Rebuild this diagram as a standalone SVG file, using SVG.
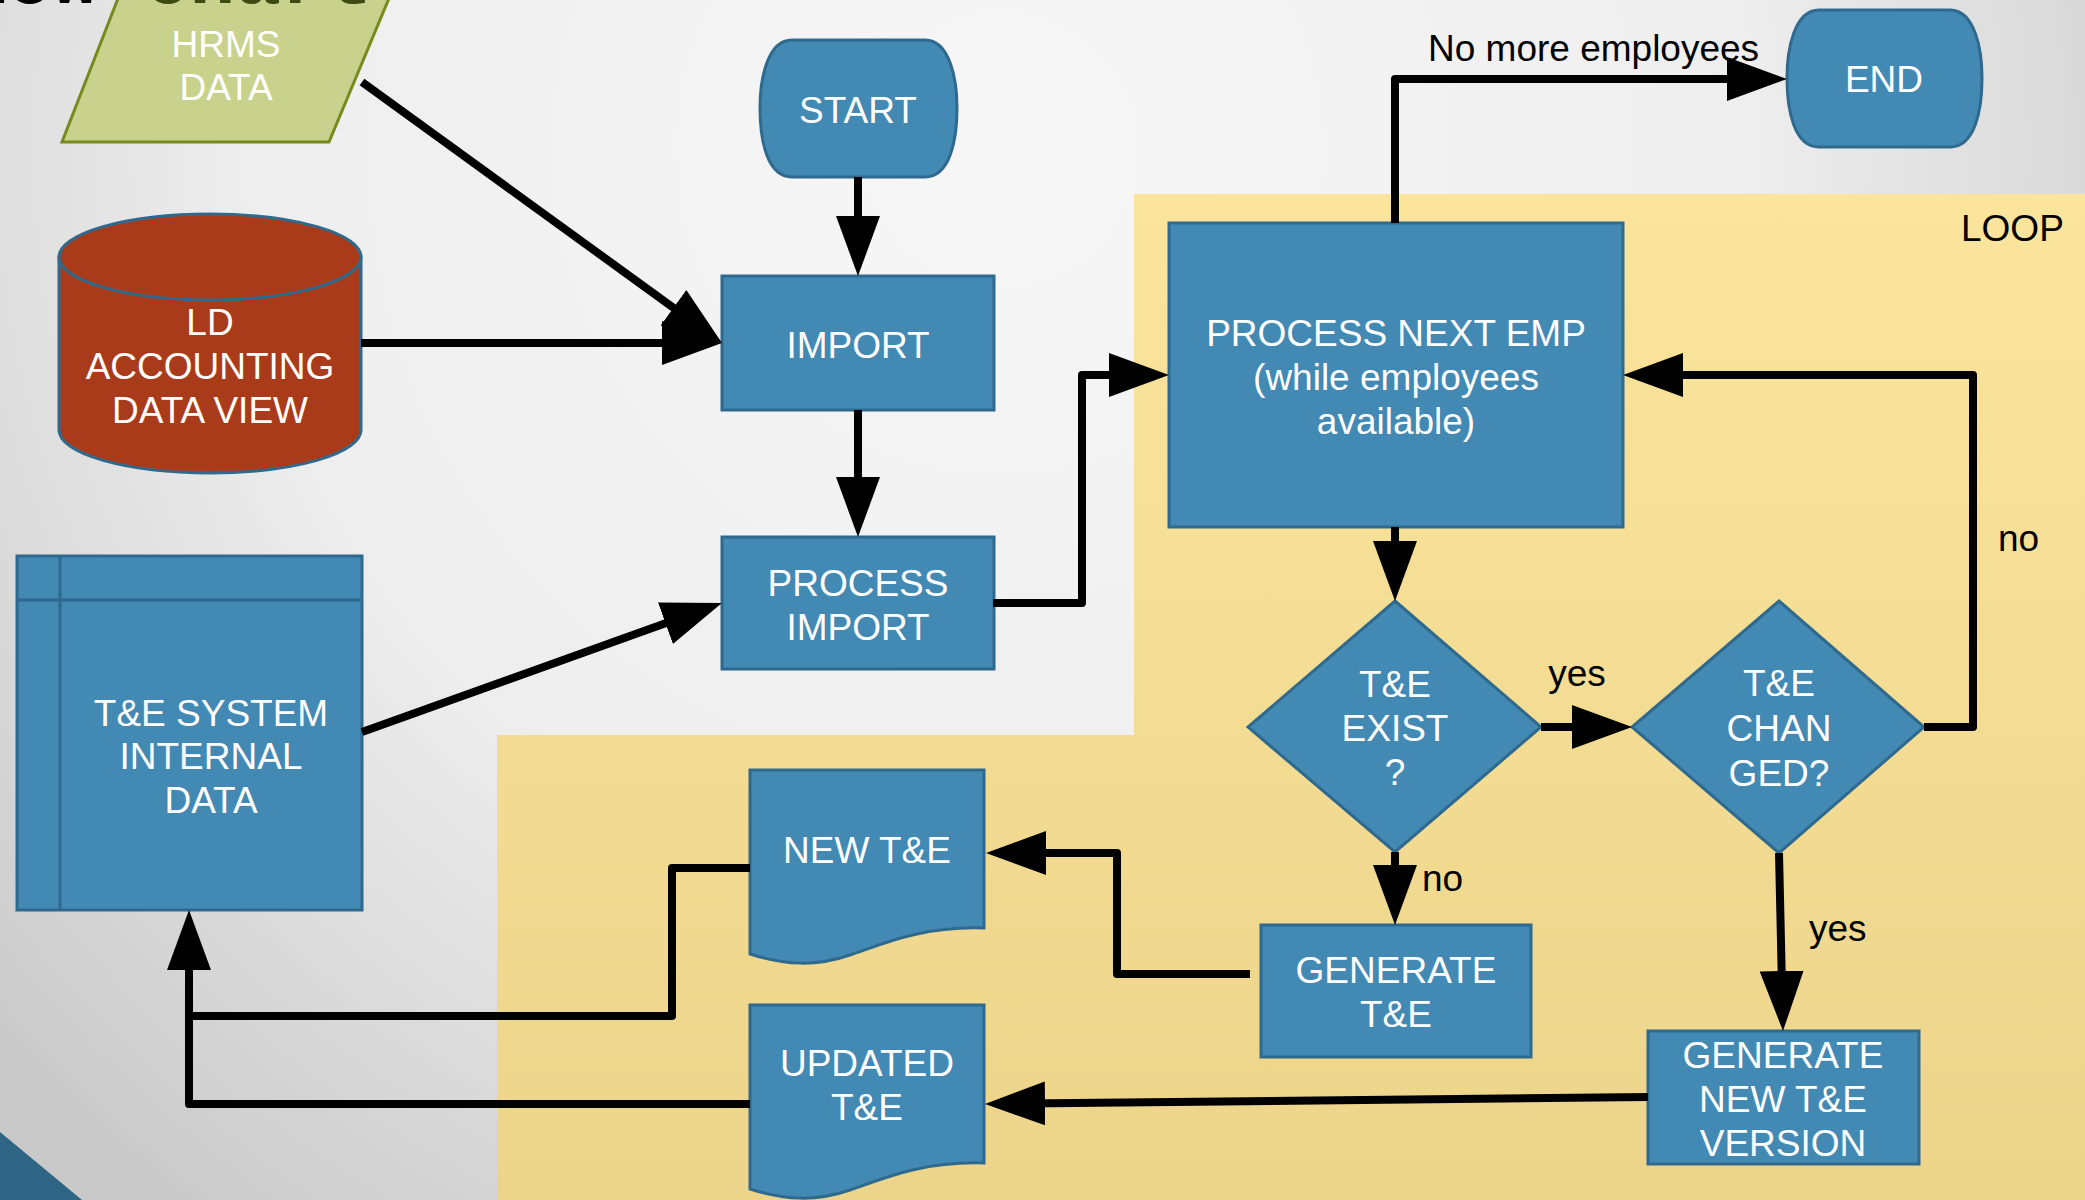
<svg xmlns="http://www.w3.org/2000/svg" width="2085" height="1200" viewBox="0 0 2085 1200">
<defs>
<radialGradient id="bg" cx="1000" cy="150" r="1350" gradientUnits="userSpaceOnUse">
<stop offset="0" stop-color="#f7f7f7"/>
<stop offset="0.55" stop-color="#eeeeee"/>
<stop offset="1" stop-color="#c9c9c9"/>
</radialGradient>
<linearGradient id="loop" x1="0" y1="194" x2="0" y2="1200" gradientUnits="userSpaceOnUse">
<stop offset="0" stop-color="#fbe49b"/>
<stop offset="1" stop-color="#ecd48b"/>
</linearGradient>
<marker id="ah" markerUnits="userSpaceOnUse" viewBox="0 0 60 44" refX="20" refY="22" markerWidth="60" markerHeight="44" orient="auto">
<path d="M0,0 L60,22 L0,44 Z" fill="#000"/>
</marker>
<style>
.n{fill:#4289b4;stroke:#2f6a8e;stroke-width:3}
.t{font-family:"Liberation Sans",Arial,sans-serif;font-size:37px;fill:#fff;text-anchor:middle}
.l{font-family:"Liberation Sans",Arial,sans-serif;font-size:37px;fill:#000}
.c{fill:none;stroke:#000;stroke-width:8;stroke-linejoin:round}
.a{marker-end:url(#ah)}
</style>
</defs>
<rect x="0" y="0" width="2085" height="1200" fill="url(#bg)"/>
<path d="M1134,194 H2085 V1200 H497 V735 H1134 Z" fill="url(#loop)"/>
<polygon points="0,1132 82,1200 0,1200" fill="#2e6584"/>
<text class="l" x="1961" y="241">LOOP</text>

<g id="hrms">
<polygon points="62,142 329,142 405,-40 133,-40" fill="#c8d28c" stroke="#778a1e" stroke-width="3"/>
<text class="t" x="226" y="57">HRMS</text>
<text class="t" x="226" y="100">DATA</text>
</g>
<text x="372" y="3" text-anchor="end" style="font-family:'Liberation Mono',monospace;font-weight:bold;font-size:76px"><tspan fill="#000">Flow </tspan><tspan fill="#3d4a12">Chart</tspan></text>

<g id="ld">
<path d="M59,257 V430 A151,43 0 0 0 361,430 V257 Z" fill="#a93b1a" stroke="#2f6a8e" stroke-width="3"/>
<ellipse cx="210" cy="257" rx="151" ry="43" fill="#a93b1a" stroke="#2f6a8e" stroke-width="3"/>
<text class="t" x="210" y="335">LD</text>
<text class="t" x="210" y="379">ACCOUNTING</text>
<text class="t" x="210" y="423">DATA VIEW</text>
</g>

<g id="tesys">
<rect class="n" x="17" y="556" width="345" height="354"/>
<line x1="60" y1="556" x2="60" y2="910" stroke="#2f6a8e" stroke-width="3"/>
<line x1="17" y1="600" x2="362" y2="600" stroke="#2f6a8e" stroke-width="3"/>
<text class="t" x="211" y="726">T&amp;E SYSTEM</text>
<text class="t" x="211" y="769">INTERNAL</text>
<text class="t" x="211" y="813">DATA</text>
</g>

<g id="start">
<path class="n" d="M792,40 H925 C950,40 957,80 957,108 C957,140 950,177 925,177 H792 C767,177 760,140 760,108 C760,80 767,40 792,40 Z"/>
<text class="t" x="858" y="123">START</text>
</g>

<g id="end">
<path class="n" d="M1819,10 H1950 C1975,10 1982,50 1982,78 C1982,110 1975,147 1950,147 H1819 C1794,147 1787,110 1787,78 C1787,50 1794,10 1819,10 Z"/>
<text class="t" x="1884" y="92">END</text>
</g>

<g id="import">
<rect class="n" x="722" y="276" width="272" height="134"/>
<text class="t" x="858" y="358">IMPORT</text>
</g>

<g id="procimport">
<rect class="n" x="722" y="537" width="272" height="132"/>
<text class="t" x="858" y="596">PROCESS</text>
<text class="t" x="858" y="640">IMPORT</text>
</g>

<g id="procnext">
<rect class="n" x="1169" y="223" width="454" height="304"/>
<text class="t" x="1396" y="346">PROCESS NEXT EMP</text>
<text class="t" x="1396" y="390">(while employees</text>
<text class="t" x="1396" y="434">available)</text>
</g>

<g id="exist">
<polygon class="n" points="1395,601 1541,727 1395,852 1248,727"/>
<text class="t" x="1395" y="697">T&amp;E</text>
<text class="t" x="1395" y="741">EXIST</text>
<text class="t" x="1395" y="785">?</text>
</g>

<g id="changed">
<polygon class="n" points="1779,601 1924,727 1779,853 1632,727"/>
<text class="t" x="1779" y="696">T&amp;E</text>
<text class="t" x="1779" y="741">CHAN</text>
<text class="t" x="1779" y="786">GED?</text>
</g>

<g id="gen">
<rect class="n" x="1261" y="925" width="270" height="132"/>
<text class="t" x="1396" y="983">GENERATE</text>
<text class="t" x="1396" y="1027">T&amp;E</text>
</g>

<g id="genver">
<rect class="n" x="1648" y="1031" width="271" height="133"/>
<text class="t" x="1783" y="1068">GENERATE</text>
<text class="t" x="1783" y="1112">NEW T&amp;E</text>
<text class="t" x="1783" y="1156">VERSION</text>
</g>

<g id="newte">
<path class="n" d="M750,770 H984 V928 C920,926 880,945 850,955 C815,967 785,965 750,954 Z"/>
<text class="t" x="867" y="863">NEW T&amp;E</text>
</g>

<g id="updte">
<path class="n" d="M750,1005 H984 V1163 C920,1161 880,1180 850,1190 C815,1202 785,1200 750,1189 Z"/>
<text class="t" x="867" y="1076">UPDATED</text>
<text class="t" x="867" y="1120">T&amp;E</text>
</g>

<g id="connectors">
<path class="c a" d="M858,177 V236"/>
<path class="c a" d="M858,410 V497"/>
<path class="c a" d="M362,82 L689.6,319.5"/>
<path class="c a" d="M361,343 H682"/>
<path class="c a" d="M362,732 L684.3,616.5"/>
<path class="c a" d="M993,603 H1082 V375 H1129"/>
<path class="c a" d="M1395,223 V79 H1747"/>
<path class="c a" d="M1395,527 V561"/>
<path class="c a" d="M1541,727 H1592"/>
<path class="c a" d="M1924,727 H1973 V375 H1663"/>
<path class="c a" d="M1395,852 V885"/>
<path class="c a" d="M1779,853 L1782.1,991"/>
<path class="c a" d="M1250,974 H1117 V853 H1026"/>
<path class="c a" d="M1648,1097 L1025,1103.6"/>
<path class="c a" d="M750,868 H672 V1016 H189 V950"/>
<path class="c" d="M750,1104 H189 V1016"/>
<text class="l" x="1428" y="61">No more employees</text>
<text class="l" x="1577" y="686" text-anchor="middle">yes</text>
<text class="l" x="1998" y="551">no</text>
<text class="l" x="1422" y="891">no</text>
<text class="l" x="1809" y="941">yes</text>
</g>
</svg>
